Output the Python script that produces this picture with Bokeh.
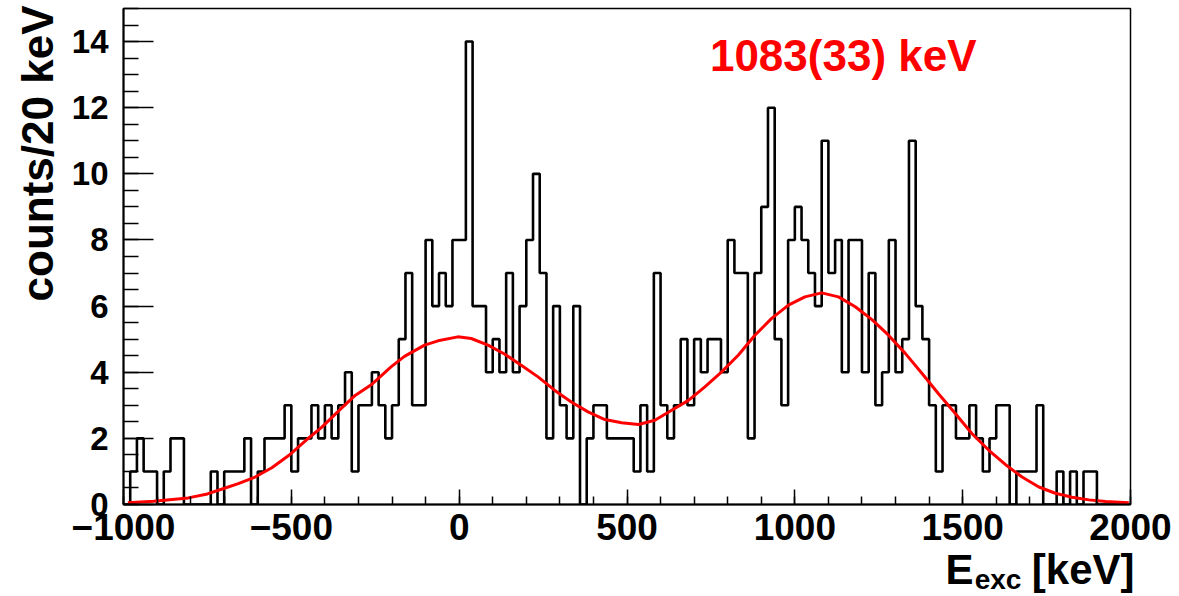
import math
from bokeh.plotting import figure
from bokeh.models import FixedTicker, Label
from bokeh.embed import file_html
from bokeh.resources import INLINE

# ---- data ----
bin_start = -1000
bin_width = 20
counts = [0, 1, 2, 1, 1, 0, 1, 2, 2, 0,
          0, 0, 0, 1, 0, 1, 1, 1, 2, 0,
          1, 2, 2, 2, 3, 1, 2, 2, 3, 2,
          3, 2, 3, 4, 1, 3, 3, 4, 3, 2,
          3, 5, 7, 3, 3, 8, 6, 7, 6, 8,
          8, 14, 6, 6, 4, 5, 4, 7, 4, 6,
          8, 10, 7, 2, 6, 3, 2, 6, 0, 2,
          3, 3, 2, 2, 2, 2, 1, 3, 1, 7,
          3, 2, 3, 5, 3, 5, 4, 5, 5, 4,
          8, 7, 7, 2, 7, 9, 12, 5, 3, 8,
          9, 8, 7, 6, 11, 7, 8, 4, 8, 8,
          4, 7, 3, 4, 8, 4, 5, 11, 6, 5,
          3, 1, 3, 3, 2, 2, 3, 2, 1, 2,
          3, 3, 0, 1, 1, 1, 3, 0, 0, 1,
          0, 1, 0, 1, 1, 0, 0, 0, 0, 0]

fit_kev = [-987, -910, -807, -750, -708, -658, -608, -558, -508, -459,
           -409, -359, -310, -262, -203, -163, -103, -63, -4, 36,
           86, 135, 185, 235, 285, 334, 384, 434, 484, 534,
           583, 633, 683, 732, 782, 832, 881, 931, 981, 1030,
           1080, 1130, 1180, 1229, 1279, 1329, 1379, 1428, 1478, 1528,
           1578, 1627, 1677, 1727, 1776, 1826, 1876, 1926, 1995]
fit_counts = [0.05, 0.10, 0.20, 0.32, 0.46, 0.63, 0.83, 1.11, 1.48, 1.92,
              2.34, 2.83, 3.30, 3.62, 4.16, 4.48, 4.82, 4.95, 5.07, 5.02,
              4.82, 4.55, 4.21, 3.86, 3.45, 3.10, 2.80, 2.57, 2.47, 2.42,
              2.55, 2.85, 3.15, 3.56, 4.01, 4.52, 5.12, 5.63, 6.03, 6.28,
              6.40, 6.28, 5.98, 5.60, 5.12, 4.57, 3.96, 3.35, 2.75, 2.14,
              1.64, 1.21, 0.83, 0.53, 0.34, 0.22, 0.14, 0.09, 0.05]

x_major = [-1000, -500, 0, 500, 1000, 1500, 2000]
x_minor = list(range(-1000, 2001, 100))
y_major = [0, 2, 4, 6, 8, 10, 12, 14]
y_minor = [i * 0.5 for i in range(31)]

fit_text = "1083(33) keV"
y_title = "counts/20 keV"
NB = "\u00a0"
x_title = "E" + NB * 5 + "[keV]"
x_title_sub = "exc"

FONT = "Liberation Sans"

p = figure(width=1179, height=596, x_range=(-1000, 2000), y_range=(0, 15),
           output_backend="svg", toolbar_location=None,
           min_border_left=123, min_border_right=48,
           min_border_top=8, min_border_bottom=92)
p.title.visible = False
p.grid.visible = False
p.background_fill_color = "white"
p.border_fill_color = "white"
p.outline_line_color = "black"
p.outline_line_width = 1.5

# histogram
edges = [bin_start + bin_width * i for i in range(len(counts) + 1)]
p.step(x=edges, y=counts + [counts[-1]], mode="after",
       line_color="black", line_width=2.6)

# fit
p.line(x=fit_kev, y=fit_counts, line_color="#ff0000", line_width=3)

# axes
p.xaxis.ticker = FixedTicker(ticks=x_major, minor_ticks=x_minor)
p.yaxis.ticker = FixedTicker(ticks=y_major, minor_ticks=y_minor)
for ax in (p.xaxis[0], p.yaxis[0]):
    ax.axis_line_color = "black"
    ax.axis_line_width = 2
    ax.major_tick_line_color = "black"
    ax.minor_tick_line_color = "black"
    ax.major_tick_line_width = 1.5
    ax.minor_tick_line_width = 1.5
    ax.major_tick_out = 0
    ax.minor_tick_out = 0
    ax.major_label_text_font = FONT
    ax.major_label_text_font_style = "bold"
    ax.major_label_text_color = "black"
p.xaxis.major_label_text_font_size = "37px"
p.yaxis.major_label_text_font_size = "33px"
p.xaxis.major_tick_in = 15
p.xaxis.minor_tick_in = 8
p.yaxis.major_tick_in = 30
p.yaxis.minor_tick_in = 15
p.xaxis.major_label_standoff = 9
p.yaxis.major_label_standoff = 15

# pixel -> data helpers for text placement (frame: x 123..1131, y 8..504)
def dx(px):
    return -1000 + (px - 123) * 3000.0 / 1008.0

def dy(py):
    return (504 - py) * 15.0 / 496.0

def lab(**kw):
    base = dict(text_font=FONT, text_font_style="bold", text_color="black",
                text_baseline="alphabetic")
    base.update(kw)
    return Label(**base)

# Axis titles are hosted by side panels (so they are not clipped to the
# frame); each panel is chosen so that the title fits in its spare border.
p.add_layout(lab(x=dx(37), y=dy(5), text=y_title, angle=math.pi / 2,
                 text_align="right", text_font_size="44px"), "right")
p.add_layout(lab(x=dx(1135), y=dy(569), text=x_title,
                 text_align="right", text_font_size="42px"), "below")
p.add_layout(lab(x=dx(975), y=dy(579), text=x_title_sub,
                 text_align="left", text_font_size="28px"), "left")

p.add_layout(lab(x=dx(710), y=dy(55), text=fit_text, text_align="left",
                 text_font_size="44px", text_color="#ff0000"))

open("out.html", "w").write(file_html(p, INLINE))
